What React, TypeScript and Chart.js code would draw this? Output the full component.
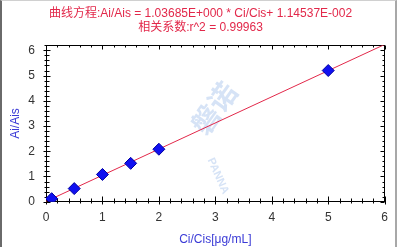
import React, { useEffect, useRef } from "react";
import { Chart, registerables } from "chart.js";

Chart.register(...registerables);

const titleLines = [
  "曲线方程:Ai/Ais = 1.03685E+000 * Ci/Cis+ 1.14537E-002",
  "相关系数:r^2 = 0.99963",
];
const xAxisTitle = "Ci/Cis[μg/mL]";
const yAxisTitle = "Ai/Ais";

const concentrations = [0.1, 0.5, 1, 1.5, 2, 5];
const ratios = [0.12, 0.52, 1.08, 1.52, 2.08, 5.2];

const slope = 1.03685;
const intercept = 0.0114537;
const fitX = [0, 6];

const xTickValues = [0, 1, 2, 3, 4, 5, 6];
const yTickValues = [0, 1, 2, 3, 4, 5, 6];
const xMax = 6;
const yMax = 6.2;
const minorStep = 0.2;

const FONT = "'Liberation Sans', Arial, 'Noto Sans CJK SC', sans-serif";
const BLUE = "#3b3bd6";
const RED = "#e2284a";

const frameTicks = {
  id: "frameTicks",
  beforeDatasetsDraw(chart: any) {
    const { ctx, chartArea, scales } = chart;
    const { left, right, top, bottom } = chartArea;
    const xs = scales.x;
    const ys = scales.y;
    const L = Math.round(left) + 0.5;
    const R = Math.round(right) - 0.5;
    const T = Math.round(top) + 0.5;
    const B = Math.round(bottom) - 0.5;
    ctx.save();
    // watermark
    ctx.fillStyle = "rgba(165,192,235,0.45)";
    ctx.textAlign = "center";
    ctx.textBaseline = "middle";
    ctx.font = "bold 28px 'Noto Sans CJK SC', sans-serif";
    ctx.translate(214, 108);
    ctx.rotate(-0.95);
    ctx.fillText("磐诺", 0, 0);
    ctx.setTransform(1, 0, 0, 1, 0, 0);
    ctx.font = "bold 11px 'Liberation Sans', sans-serif";
    ctx.translate(218, 176);
    ctx.rotate(1.15);
    ctx.fillText("PANNA", 0, 0);
    ctx.setTransform(1, 0, 0, 1, 0, 0);

    ctx.strokeStyle = "#000";
    ctx.lineWidth = 1;
    ctx.strokeRect(L, T, R - L, B - T);
    ctx.beginPath();
    const isMajor = (v: number) => Math.abs(v - Math.round(v)) < 1e-6;
    for (let v = 0; v <= xMax + 1e-6; v += minorStep) {
      const px = Math.round(xs.getPixelForValue(v)) + 0.5;
      const major = isMajor(v);
      ctx.moveTo(px, B - (major ? 5 : 3));
      ctx.lineTo(px, B + (major ? 3 : 2));
      ctx.moveTo(px, T);
      ctx.lineTo(px, T + (major ? 4 : 2));
    }
    for (let v = 0; v <= yMax + 1e-6; v += minorStep) {
      const py = Math.round(ys.getPixelForValue(v)) + 0.5;
      const major = isMajor(v);
      ctx.moveTo(L - (major ? 3 : 2), py);
      ctx.lineTo(L + (major ? 4 : 3), py);
      ctx.moveTo(R, py);
      ctx.lineTo(R - (major ? 4 : 2), py);
    }
    ctx.stroke();
    ctx.restore();
  },
};

export default function App() {
  const ref = useRef<HTMLCanvasElement | null>(null);
  useEffect(() => {
    document.body.style.margin = "0";
    const canvas = ref.current;
    if (!canvas) return;
    const chart = new Chart(canvas, {
      type: "scatter",
      data: {
        datasets: [
          {
            type: "line",
            label: "fit",
            data: fitX.map((x) => ({ x, y: slope * x + intercept })),
            borderColor: RED,
            borderWidth: 1,
            pointRadius: 0,
            fill: false,
            order: 2,
          } as any,
          {
            label: "points",
            data: concentrations.map((x, i) => ({ x, y: ratios[i] })),
            pointStyle: "rectRot",
            pointRadius: 6,
            backgroundColor: "#1010f0",
            borderColor: "#0000a0",
            borderWidth: 1,
            order: 1,
          },
        ],
      },
      options: {
        animation: false,
        responsive: false,
        maintainAspectRatio: false,
        devicePixelRatio: 1,
        layout: { padding: { left: 13, right: 9, top: 0, bottom: 0 } },
        plugins: {
          legend: { display: false },
          tooltip: { enabled: false },
          title: {
            display: true,
            text: titleLines,
            color: RED,
            font: { family: FONT, size: 12, weight: "normal", lineHeight: 1.2 },
            padding: { top: 6, bottom: 10.5 },
          },
        },
        scales: {
          x: {
            type: "linear",
            position: "bottom",
            min: 0,
            max: xMax,
            grid: { display: false, drawTicks: false },
            border: { display: false },
            afterBuildTicks: (s: any) => {
              s.ticks = xTickValues.map((value) => ({ value }));
            },
            afterFit: (s: any) => {
              s.height = 45.3;
            },
            ticks: {
              color: "#333",
              font: { family: FONT, size: 12 },
              padding: 9,
              maxRotation: 0,
            },
            title: {
              display: true,
              text: xAxisTitle,
              color: BLUE,
              font: { family: FONT, size: 12 },
              padding: { top: 0, bottom: 0 },
            },
          },
          y: {
            type: "linear",
            position: "left",
            min: 0,
            max: yMax,
            grid: { display: false, drawTicks: false },
            border: { display: false },
            afterBuildTicks: (s: any) => {
              s.ticks = yTickValues.map((value) => ({ value }));
            },
            afterFit: (s: any) => {
              s.width = 33;
            },
            ticks: {
              color: "#333",
              font: { family: FONT, size: 12 },
              padding: 11,
            },
            title: {
              display: true,
              text: yAxisTitle,
              color: BLUE,
              font: { family: FONT, size: 12 },
              padding: { top: -5, bottom: 0 },
            },
          },
        },
      },
      plugins: [frameTicks],
    } as any);
    return () => chart.destroy();
  }, []);
  return (
    <div style={{ position: "relative", width: 397, height: 247, background: "#fff" }}>
      <canvas ref={ref} width={397} height={247} style={{ display: "block" }} />
      <div
        style={{
          position: "absolute",
          inset: 0,
          borderLeft: "2px solid #6a6a6a",
          borderRight: "2px solid #a8a8a8",
          borderTop: "1px solid #d0d0d0",
          pointerEvents: "none",
        }}
      />
    </div>
  );
}
